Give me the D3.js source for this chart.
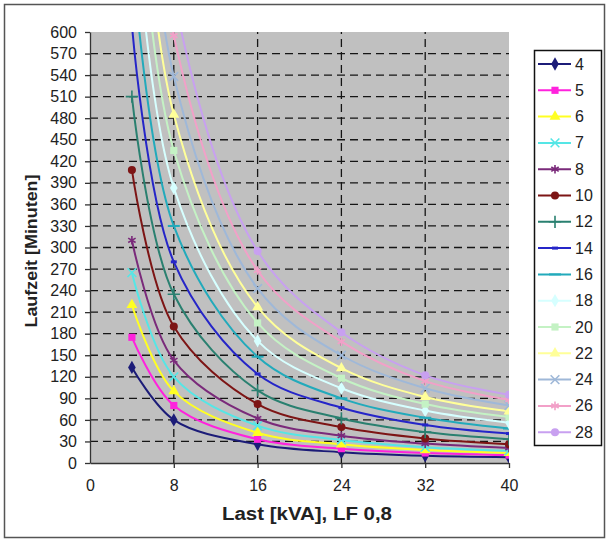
<!DOCTYPE html>
<html>
<head>
<meta charset="utf-8">
<script src="https://cdn.jsdelivr.net/npm/d3@7"></script>
<style>
  body { margin: 0; background: #fff; }
  text { font-family: Arial, "Liberation Sans", sans-serif; }
</style>
</head>
<body>
<svg width="607" height="543"></svg>
<script>
// Load in kVA (x) and runtime in minutes per battery setting
var loads = [4, 8, 16, 24, 32, 40];
var seriesNames = ["4", "5", "6", "7", "8", "10", "12", "14", "16", "18", "20", "22", "24", "26", "28"];
var s4  = [133, 60, 26, 15, 10, 8];
var s5  = [175, 80, 33, 20, 14, 11];
var s6  = [220, 100, 42, 26, 18, 14];
var s7  = [265, 120, 52, 32, 22, 17];
var s8  = [310, 143, 62, 38, 27, 21];
var s10 = [408, 190, 82, 50, 34, 26];
var s12 = [510, 235, 101, 62, 43, 33];
var s14 = [610, 280, 124, 77, 53, 41];
var s16 = [715, 330, 148, 90, 63, 48];
var s18 = [820, 383, 170, 104, 73, 56];
var s20 = [925, 435, 195, 118, 82, 64];
var s22 = [1030, 485, 217, 132, 92, 72];
var s24 = [1130, 538, 243, 150, 104, 80];
var s26 = [1240, 595, 268, 169, 114, 88];
var s28 = [1340, 650, 295, 182, 122, 95];
var yTicks = d3.range(0, 601, 30);
var xTicks = [0, 8, 16, 24, 32, 40];

var allValues = [s4, s5, s6, s7, s8, s10, s12, s14, s16, s18, s20, s22, s24, s26, s28];
var colors = ["#1c1c78", "#ff22dd", "#ffff22", "#55e6e6", "#7a2a7a", "#7d1515", "#2a8070",
              "#2525c8", "#22aabb", "#d6ffff", "#c4f2c4", "#ffff99", "#9fb8d8", "#f2a0c8", "#c8a0f0"];
var markers = ["diamond", "square", "triangle", "x", "star", "circle", "plus", "dash", "longdash",
               "diamond", "square", "triangle", "x", "star", "circle"];

var margin = {top: 32, left: 90},
    plotW = 419, plotH = 431;

var svg = d3.select("svg");

// outer chart border
svg.append("rect")
    .attr("x", 4.5).attr("y", 4.5)
    .attr("width", 600).attr("height", 533)
    .attr("fill", "#fff")
    .attr("stroke", "#555").attr("stroke-width", 1.5);

var x = d3.scaleLinear().domain([0, 40]).range([0, plotW]);
var y = d3.scaleLinear().domain([0, 600]).range([plotH, 0]);

var g = svg.append("g")
    .attr("transform", "translate(" + margin.left + "," + margin.top + ")");

g.append("rect")
    .attr("width", plotW).attr("height", plotH)
    .attr("fill", "#c0c0c0");

g.append("clipPath").attr("id", "plotclip")
  .append("rect").attr("width", plotW).attr("height", plotH);

// dashed gridlines
g.selectAll(".hgrid")
    .data(yTicks.filter(function(d) { return d > 0 && d < 600; }))
    .join("line")
    .attr("x1", 0).attr("x2", plotW)
    .attr("y1", function(d) { return y(d); })
    .attr("y2", function(d) { return y(d); })
    .attr("stroke", "#151515").attr("stroke-width", 1.3)
    .attr("stroke-dasharray", "8,5");

g.selectAll(".vgrid")
    .data(xTicks.filter(function(d) { return d > 0 && d < 40; }))
    .join("line")
    .attr("y1", plotH).attr("y2", 0)
    .attr("x1", function(d) { return x(d); })
    .attr("x2", function(d) { return x(d); })
    .attr("stroke", "#151515").attr("stroke-width", 1.3)
    .attr("stroke-dasharray", "8,5");

function markerPath(type, size) {
    var s = size / 2;
    if (type === "dash") return "M" + (-3) + "," + (-1.5) + "h6v3h-6z";
    if (type === "longdash") return "M" + (-6) + "," + (-1) + "h12v2h-12z";
    var t = {diamond: d3.symbolDiamond, square: d3.symbolSquare, triangle: d3.symbolTriangle,
             x: d3.symbolX, star: d3.symbolAsterisk, circle: d3.symbolCircle, plus: d3.symbolPlus}[type];
    return d3.symbol().type(t).size(size * size * 0.8)();
}
function strokeMarker(type) {
    return type === "x" || type === "star" || type === "plus";
}

var line = d3.line()
    .x(function(d) { return x(d[0]); })
    .y(function(d) { return y(d[1]); })
    .curve(d3.curveCatmullRom.alpha(0.5));

var lines = g.append("g").attr("clip-path", "url(#plotclip)");

allValues.forEach(function(vals, i) {
    var pts = loads.map(function(l, j) { return [l, vals[j]]; });
    lines.append("path")
        .datum(pts)
        .attr("d", line)
        .attr("fill", "none")
        .attr("stroke", colors[i])
        .attr("stroke-width", 2);

    lines.selectAll(".m" + i)
        .data(pts.filter(function(p) { return p[1] <= 600; }))
        .join("path")
        .attr("transform", function(p) { return "translate(" + x(p[0]) + "," + y(p[1]) + ")"; })
        .attr("d", markerPath(markers[i], 8))
        .attr("fill", strokeMarker(markers[i]) ? "none" : colors[i])
        .attr("stroke", colors[i])
        .attr("stroke-width", strokeMarker(markers[i]) ? 1.6 : 0);
});

// axes
var yAxis = g.append("g")
    .call(d3.axisLeft(y).tickValues(yTicks).tickSize(5).tickPadding(8).tickSizeOuter(0));
var xAxis = g.append("g")
    .attr("transform", "translate(0," + plotH + ")")
    .call(d3.axisBottom(x).tickValues(xTicks).tickSize(5).tickPadding(12).tickSizeOuter(0));

[xAxis, yAxis].forEach(function(a) {
    a.select(".domain").attr("stroke", "#333").attr("stroke-width", 1.3);
    a.selectAll(".tick line").attr("stroke", "#333").attr("stroke-width", 1.3);
    a.selectAll(".tick text")
        .attr("fill", "#222")
        .style("font-size", "16px")
        .style("font-family", "Arial, 'Liberation Sans', sans-serif");
});
xAxis.select(".tick line").attr("stroke", "none");

// axis titles
svg.append("text")
    .attr("x", 307).attr("y", 520)
    .attr("text-anchor", "middle")
    .attr("font-weight", "bold")
    .attr("font-size", 18)
    .attr("textLength", 170).attr("lengthAdjust", "spacingAndGlyphs")
    .attr("fill", "#222")
    .text("Last [kVA], LF 0,8");

svg.append("text")
    .attr("transform", "translate(37,251) rotate(-90)")
    .attr("text-anchor", "middle")
    .attr("font-weight", "bold")
    .attr("font-size", 17)
    .attr("textLength", 153).attr("lengthAdjust", "spacingAndGlyphs")
    .attr("fill", "#222")
    .text("Laufzeit [Minuten]");

// legend
var legend = svg.append("g");
legend.append("rect")
    .attr("x", 534.5).attr("y", 50.5)
    .attr("width", 67).attr("height", 395)
    .attr("fill", "#fff")
    .attr("stroke", "#111").attr("stroke-width", 1.5);

var items = legend.selectAll(".item")
    .data(seriesNames)
    .join("g")
    .attr("transform", function(d, i) { return "translate(0," + (64 + i * 26.3) + ")"; });

items.append("line")
    .attr("x1", 538).attr("x2", 571)
    .attr("stroke", function(d, i) { return colors[i]; })
    .attr("stroke-width", 2);

items.append("path")
    .attr("transform", "translate(555,0)")
    .attr("d", function(d, i) { return markerPath(markers[i], 8); })
    .attr("fill", function(d, i) { return strokeMarker(markers[i]) ? "none" : colors[i]; })
    .attr("stroke", function(d, i) { return colors[i]; })
    .attr("stroke-width", function(d, i) { return strokeMarker(markers[i]) ? 1.6 : 0; });

items.append("text")
    .attr("x", 575).attr("y", 0)
    .attr("dominant-baseline", "central")
    .attr("font-size", 16)
    .attr("fill", "#222")
    .text(function(d) { return d; });
</script>
</body>
</html>
